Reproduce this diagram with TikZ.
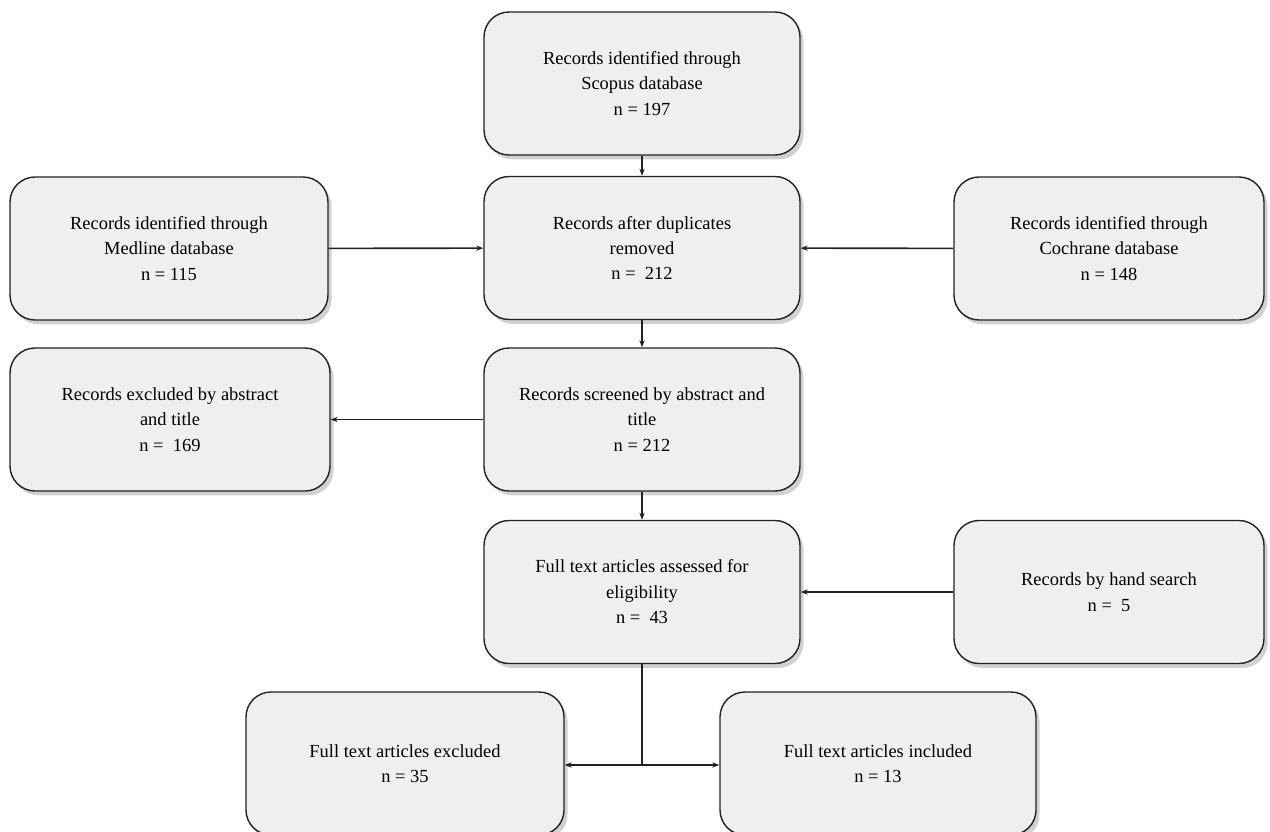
\documentclass[tikz,border=0pt]{standalone}
\usepackage{fontspec}
\setmainfont{Liberation Serif}
\usepackage{tikz}
\usetikzlibrary{arrows.meta,positioning,shadows}
\definecolor{boxGray}{HTML}{EFEFEF}
\definecolor{lineDark}{HTML}{222222}

\begin{document}
\begin{tikzpicture}[font=\fontsize{10.5}{14.5}\selectfont,>={Stealth[length=4pt,width=3pt]},
  rec/.style={draw=lineDark,line width=0.8pt,fill=boxGray,rounded corners=0.5cm,
    align=center,minimum width=6.32cm,minimum height=2.86cm,
    drop shadow={shadow xshift=2pt,shadow yshift=-2.5pt,opacity=0.3,fill=black!60}},
  flow/.style={->,line width=0.9pt,draw=lineDark}]
\useasboundingbox (0,0) rectangle (25.4,-16.62);
% identification
\node[rec] (scopus) at (12.84,-1.67) {Records identified through\\Scopus database\\n = 197};
\node[rec] (dup) at (12.84,-4.96) {Records after duplicates\\removed\\n =\ \ 212};
\node[rec,minimum width=6.36cm] (medline) at (3.38,-4.97) {Records identified through\\Medline database\\n = 115};
\node[rec,minimum width=6.2cm] (cochrane) at (22.18,-4.97) {Records identified through\\Cochrane database\\n = 148};
% screening
\node[rec,minimum width=6.4cm] (exabs) at (3.4,-8.39) {Records excluded by abstract\\and title\\n =\ \ 169};
\node[rec] (screen) at (12.84,-8.39) {Records screened by abstract and\\title\\n = 212};
% eligibility
\node[rec] (full) at (12.84,-11.84) {Full text articles assessed for\\eligibility\\n =\ \ 43};
\node[rec,minimum width=6.2cm] (hand) at (22.18,-11.84) {Records by hand search\\n =\ \ 5};
% included
\node[rec,minimum width=6.36cm] (exfull) at (8.1,-15.27) {Full text articles excluded\\n = 35};
\node[rec] (incl) at (17.56,-15.27) {Full text articles included\\n = 13};
\coordinate (split) at (12.84,-15.3);
% connectors
\draw[flow] (scopus) -- (dup);
\draw[flow] (medline) -- (dup);
\draw[flow] (cochrane) -- (dup);
\draw[flow] (dup) -- (screen);
\draw[flow] (screen) -- (exabs);
\draw[flow] (screen) -- (full);
\draw[flow] (hand) -- (full);
\draw[line width=0.9pt,draw=lineDark] (full) -- (split);
\draw[flow] (split) -- (exfull.east |- split);
\draw[flow] (split) -- (incl.west |- split);
\end{tikzpicture}
\end{document}
